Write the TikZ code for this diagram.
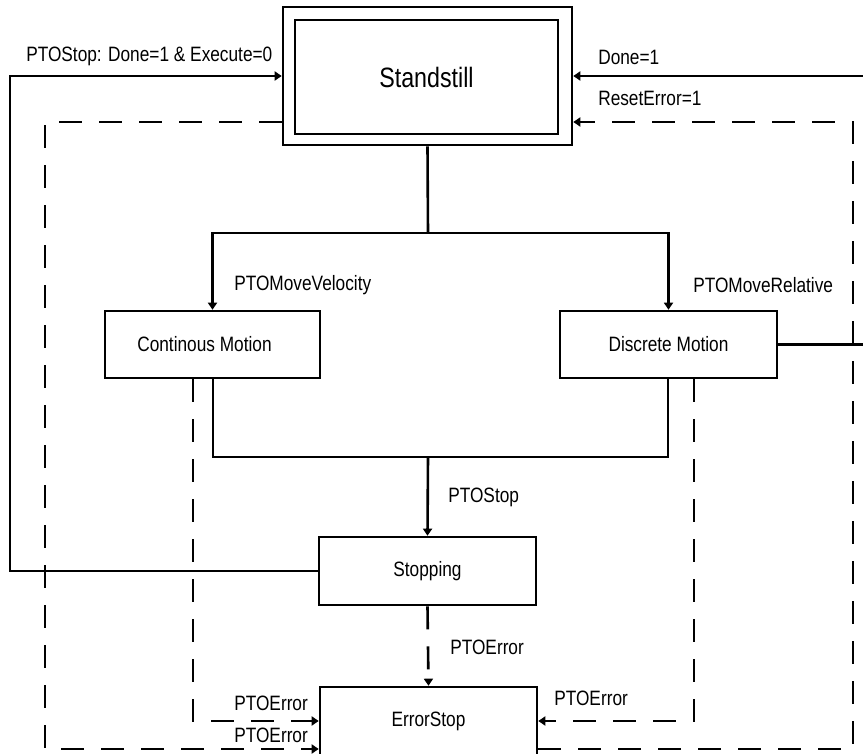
\documentclass[tikz,border=0pt]{standalone}
\usepackage{fontspec}
\setmainfont{Liberation Sans}[FakeStretch=0.83]
\usetikzlibrary{arrows.meta}
\begin{document}
\begin{tikzpicture}[x=1pt,y=-1pt,
  line width=2.6pt,
  >={Triangle[length=7pt,width=9pt]},
  state/.style={draw, rectangle, inner sep=0pt, minimum width=217pt,
    minimum height=67pt, font=\fontsize{20.8}{24}\selectfont},
  lbl/.style={font=\fontsize{20.8}{24}\selectfont, inner sep=0pt, anchor=west},
  dsh/.style={dash pattern=on 23pt off 17pt},
]
\clip (0,0) rectangle (863,754);
\fill[white] (0,0) rectangle (863,754);

% states
\node[draw, rectangle, inner sep=0pt, minimum width=289pt, minimum height=138pt] (ss) at (427.5,76) {};
\node[draw, rectangle, inner sep=0pt, minimum width=263pt, minimum height=114pt,
  font=\fontsize{28}{32}\selectfont] (ssin) at (426.5,77) {Standstill};
\node[state, minimum width=215pt] (cm) at (212.5,344.5) {\hspace*{-16pt}Continous Motion};
\node[state] (dm) at (668.5,344.5) {Discrete Motion};
\node[state, minimum height=68pt] (stp) at (427.5,571) {Stopping};
\node[state, minimum height=68pt] (es) at (428.5,721) {ErrorStop};

% helper points
\coordinate (fork) at (428,233);
\coordinate (join) at (428,457);
\coordinate (rin) at (880,76);

% Standstill -> motions
\draw (ss.south) -- (fork);
\draw[->] (fork) -| (cm.north);
\draw[->] (fork) -| (dm.north);
\node[lbl] (lmv) at (233,285) {PTOMoveVelocity};
\node[lbl] (lmr) at (692,285) {PTOMoveRelative};

% motions -> Stopping
\draw ([xshift=0.5pt]cm.south) |- (join);
\draw ([xshift=-0.5pt]dm.south) |- (join);
\draw[->] (join) -- (stp.north);
\node[lbl] (lps) at (447,497) {PTOStop};

% Stopping -> Standstill
\draw[->] (stp.west) -| (10,76) -- (ss.west);
\node[lbl] (lpd) at (25,56) {PTOStop: Done=1 \& Execute=0};

% Discrete Motion -> Standstill
\draw[->] (dm.east) -| (rin) -- (ss.east);
\node[lbl] (ldn) at (597,57) {Done=1};

% error transitions
\draw[dsh,->] (stp.south) -- (es.north);
\node[lbl] (le1) at (449,647) {PTOError};

\draw[dsh,->] ([xshift=-19.5pt]cm.south) |- (es.west);
\node[lbl] (le2) at (233,703) {PTOError};

\draw[dsh,->] ([xshift=25.5pt]dm.south) |- (es.east);
\node[lbl] (le3) at (553,698) {PTOError};

\draw[dsh,->] ([yshift=-46pt]ss.west) -| (45,749) -- ([yshift=-28pt]es.west);
\node[lbl] (le4) at (233,735) {PTOError};

\draw[dsh,->] ([yshift=-28pt]es.east) -| (853,122) -- ([yshift=-46pt]ss.east);
\node[lbl] (lre) at (597,98) {ResetError=1};
\end{tikzpicture}
\end{document}
